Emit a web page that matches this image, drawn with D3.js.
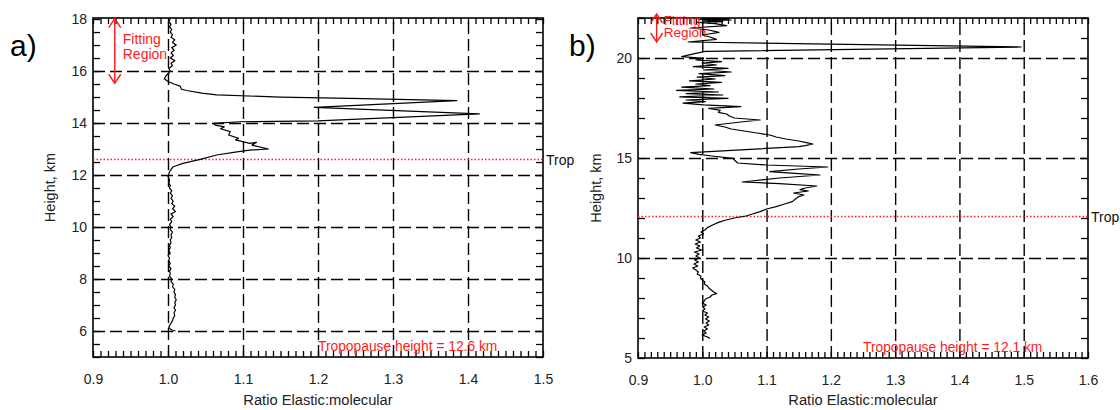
<!DOCTYPE html>
<html>
<head>
<script src="https://cdn.jsdelivr.net/npm/d3@7"></script>
<style>
  body { margin: 0; background: #fff; }
  text { font-family: "Liberation Sans", Arial, sans-serif; }
</style>
</head>
<body>
<svg id="chart" width="1120" height="410"></svg>
<script>

// ---- data ----
// tick labels
var aXTicks = [0.9, 1.0, 1.1, 1.2, 1.3, 1.4, 1.5];
var aYTicks = [6, 8, 10, 12, 14, 16, 18];
var aXGrid = [1.0, 1.1, 1.2, 1.3, 1.4];
var aYGrid = [6, 8, 10, 12, 14, 16];

var bXTicks = [0.9, 1.0, 1.1, 1.2, 1.3, 1.4, 1.5, 1.6];
var bYTicks = [5, 10, 15, 20];
var bXGrid = [1.0, 1.1, 1.2, 1.3, 1.4, 1.5];
var bYGrid = [10, 15, 20];

// tropopause heights (km) and fitting regions [top, bottom] (km)
var tropA = 12.6, tropB = 12.1;
var fitA = [18.02, 15.53], fitB = [22.2, 20.8];

// profile a: [height km, ratio]
var profileA = [
  [18.0,1.003],[17.9,1.001],[17.8,1.004],[17.7,1.002],[17.6,1.005],[17.5,1.003],[17.4,1.006],
  [17.3,1.004],[17.2,1.009],[17.1,1.006],[17.0,1.011],[16.9,1.005],[16.8,1.008],[16.7,1.004],
  [16.6,1.007],[16.5,1.003],[16.4,1.009],[16.3,1.004],[16.2,1.006],[16.1,1.001],[16.0,1.003],
  [15.9,1.000],[15.8,0.997],[15.7,0.995],[15.6,1.000],[15.5,1.008],[15.42,1.016],[15.3,1.018],
  [15.25,1.025],[15.15,1.045],[15.08,1.065],[15.0,1.15],[14.94,1.26],[14.86,1.385],[14.6,1.195],
  [14.35,1.415],[14.08,1.20],[14.05,1.096],[13.99,1.06],[13.92,1.063],[13.85,1.075],[13.78,1.07],
  [13.67,1.083],[13.54,1.081],[13.41,1.094],[13.35,1.09],[13.22,1.109],[13.26,1.118],[13.15,1.112],
  [13.0,1.134],[12.96,1.109],[12.9,1.094],[12.77,1.065],[12.6,1.043],[12.45,1.02],[12.32,1.007],
  [12.13,1.002],[11.94,1.000],[11.8,1.002],[11.7,1.001],[11.6,1.003],[11.5,1.002],[11.4,1.005],
  [11.3,1.003],[11.2,1.006],[11.1,1.004],[11.0,1.007],[10.9,1.005],[10.8,1.009],[10.7,1.006],
  [10.6,1.010],[10.5,1.004],[10.4,1.007],[10.3,1.003],[10.2,1.005],[10.1,1.002],[10.0,1.004],
  [9.9,1.003],[9.8,1.006],[9.7,1.004],[9.6,1.005],[9.5,1.003],[9.4,1.004],[9.3,1.002],[9.2,1.003],
  [9.1,1.001],[9.0,1.003],[8.9,1.000],[8.8,1.002],[8.7,1.001],[8.6,1.003],[8.5,1.001],[8.4,1.004],
  [8.3,1.002],[8.2,1.003],[8.1,1.002],[8.0,1.005],[7.9,1.004],[7.8,1.007],[7.7,1.006],[7.6,1.009],
  [7.5,1.008],[7.4,1.010],[7.3,1.009],[7.2,1.011],[7.1,1.009],[7.0,1.010],[6.9,1.008],[6.8,1.010],
  [6.7,1.008],[6.6,1.009],[6.5,1.007],[6.4,1.006],[6.3,1.004],[6.2,1.002],[6.15,1.001],[6.08,1.003],
  [6.03,1.006],[6.0,1.010]
];

// profile b: [height km, ratio]
var profileB = [
  [21.98,1.000],[21.96,1.040],[21.93,0.995],[21.9,1.045],[21.86,1.002],[21.82,1.032],[21.78,0.992],
  [21.72,1.020],[21.62,1.038],[21.5,0.982],[21.4,1.010],[21.28,1.026],[21.15,1.000],[21.05,1.012],
  [20.93,1.022],[20.8,0.978],[20.55,1.496],[20.33,1.005],[20.22,0.988],[20.07,0.968],[19.98,1.002],
  [19.9,0.990],[19.82,1.030],[19.74,1.000],[19.65,1.022],[19.57,0.986],[19.48,1.040],[19.4,1.002],
  [19.3,1.045],[19.22,0.995],[19.12,1.035],[19.04,0.992],[18.95,1.020],[18.86,0.980],[18.78,1.030],
  [18.7,0.990],[18.62,1.012],[18.54,0.968],[18.45,1.018],[18.38,0.960],[18.3,1.025],[18.22,0.975],
  [18.15,1.032],[18.06,0.965],[17.98,1.040],[17.9,0.975],[17.82,1.005],[17.74,0.970],[17.66,1.002],
  [17.57,1.060],[17.48,1.010],[17.38,1.028],[17.28,1.025],[17.2,1.038],[17.1,1.042],[17.0,1.050],
  [16.9,1.090],[16.8,1.060],[16.65,1.020],[16.55,1.035],[16.45,1.045],[16.35,1.065],[16.25,1.085],
  [16.15,1.105],[16.05,1.115],[15.95,1.130],[15.85,1.150],[15.77,1.162],[15.7,1.172],[15.62,1.160],
  [15.57,1.150],[15.27,0.982],[15.18,0.995],[15.1,1.015],[14.98,1.048],[14.9,1.050],[14.75,1.055],
  [14.65,1.100],[14.55,1.195],[14.45,1.150],[14.32,1.105],[14.22,1.150],[14.15,1.183],[14.0,1.120],
  [13.8,1.062],[13.72,1.120],[13.6,1.178],[13.5,1.160],[13.42,1.152],[13.35,1.165],[13.25,1.142],
  [13.15,1.158],[13.07,1.150],[12.95,1.145],[12.82,1.140],[12.7,1.128],[12.57,1.115],[12.45,1.100],
  [12.32,1.090],[12.2,1.078],[12.1,1.068],[12.0,1.050],[11.9,1.037],[11.78,1.025],[11.65,1.016],
  [11.52,1.008],[11.4,1.004],[11.3,0.998],[11.2,1.002],[11.1,0.994],[11.0,0.997],[10.9,0.990],
  [10.8,0.997],[10.7,0.989],[10.6,0.996],[10.5,0.991],[10.4,0.999],[10.3,0.988],[10.2,0.995],
  [10.1,0.990],[10.0,0.996],[9.9,0.988],[9.8,0.994],[9.7,0.987],[9.6,0.993],[9.5,0.985],[9.4,0.990],
  [9.3,0.994],[9.2,0.992],[9.1,0.998],[9.0,0.997],[8.9,1.000],[8.8,1.004],[8.7,1.003],[8.6,1.008],
  [8.5,1.010],[8.4,1.014],[8.3,1.018],[8.22,1.022],[8.15,1.015],[8.05,1.012],[7.95,1.005],
  [7.85,1.003],[7.75,1.000],[7.65,1.006],[7.55,1.001],[7.45,1.004],[7.35,1.000],[7.25,1.008],
  [7.15,1.004],[7.05,1.010],[6.95,1.005],[6.85,1.011],[6.75,1.006],[6.65,1.010],[6.55,1.003],
  [6.45,1.008],[6.35,1.002],[6.25,1.006],[6.15,1.000],[6.05,1.008],[5.98,1.012]
];

var svg = d3.select("#chart");

function drawPanel(p) {
  var g = svg.append("g");
  var x = d3.scaleLinear().domain(p.xDomain).range([p.x0, p.x1]);
  var y = d3.scaleLinear().domain(p.yDomain).range([p.y1, p.y0]);
  var w = p.x1 - p.x0, h = p.y1 - p.y0;

  function clean(sel) { sel.select(".domain").remove(); }

  // dashed grid
  g.append("g").attr("transform", "translate(0," + p.y1 + ")")
    .call(d3.axisBottom(x).tickValues(p.xGrid).tickSize(-h).tickFormat(""))
    .call(clean)
    .selectAll("line").attr("stroke", "#000").attr("stroke-width", 1.4).attr("stroke-dasharray", "12,5");
  g.append("g").attr("transform", "translate(" + p.x0 + ",0)")
    .call(d3.axisLeft(y).tickValues(p.yGrid).tickSize(-w).tickFormat(""))
    .call(clean)
    .selectAll("line").attr("stroke", "#000").attr("stroke-width", 1.4).attr("stroke-dasharray", "12,5");

  // minor ticks, pointing inward on all four sides
  var xm = d3.range(p.xDomain[0], p.xDomain[1] + 0.001, 0.01);
  var ym = d3.range(p.yDomain[0], p.yDomain[1] + 0.001, p.yMinorStep);
  g.append("g").attr("transform", "translate(0," + p.y1 + ")")
    .call(d3.axisBottom(x).tickValues(xm).tickSize(-6).tickFormat("")).call(clean);
  g.append("g").attr("transform", "translate(0," + p.y0 + ")")
    .call(d3.axisTop(x).tickValues(xm).tickSize(-6).tickFormat("")).call(clean);
  g.append("g").attr("transform", "translate(" + p.x0 + ",0)")
    .call(d3.axisLeft(y).tickValues(ym).tickSize(-7).tickFormat("")).call(clean);
  g.append("g").attr("transform", "translate(" + p.x1 + ",0)")
    .call(d3.axisRight(y).tickValues(ym).tickSize(-7).tickFormat("")).call(clean);
  g.selectAll(".tick line").filter(function() { return !this.getAttribute("stroke-dasharray"); })
    .attr("stroke", "#000").attr("stroke-width", 1.3);

  // tick labels
  g.append("g").attr("transform", "translate(0," + p.y1 + ")")
    .call(d3.axisBottom(x).tickValues(p.xTicks).tickSize(0).tickPadding(17).tickFormat(d3.format(".1f")))
    .call(clean);
  g.append("g").attr("transform", "translate(" + p.x0 + ",0)")
    .call(d3.axisLeft(y).tickValues(p.yTicks).tickSize(0).tickPadding(6).tickFormat(d3.format("d")))
    .call(clean);
  g.selectAll(".tick text").attr("font-size", "14px").attr("fill", "#222")
    .attr("font-family", "'Liberation Sans', Arial, sans-serif");

  // frame
  g.append("rect").attr("x", p.x0).attr("y", p.y0).attr("width", w).attr("height", h)
    .attr("fill", "none").attr("stroke", "#000").attr("stroke-width", 1.6);

  // tropopause line (red dots)
  var ty = Math.round(y(p.trop)) + 0.5;
  g.append("line").attr("x1", p.x0).attr("x2", p.x1)
    .attr("y1", ty).attr("y2", ty)
    .attr("stroke", "#ff2020").attr("stroke-width", 1.3).attr("stroke-dasharray", "1.5,2");
  g.append("text").attr("x", p.x1 + 3).attr("y", ty + 5)
    .attr("font-size", "14px").attr("fill", "#111").text("Trop");

  // profile
  var line = d3.line()
    .x(function(d) { return x(d[1]); })
    .y(function(d) { return y(d[0]); });
  g.append("path").datum(p.profile).attr("d", line)
    .attr("fill", "none").attr("stroke", "#000").attr("stroke-width", 1.2)
    .attr("stroke-linejoin", "round");

  // fitting region arrow
  var ax = x(0.929), ya = y(p.fit[0]), yb = y(p.fit[1]);
  g.append("line").attr("x1", ax).attr("x2", ax).attr("y1", ya).attr("y2", yb)
    .attr("stroke", "#ff1a1a").attr("stroke-width", 1.4);
  g.append("path").attr("d", "M" + (ax - 6) + "," + (ya + 9) + "L" + ax + "," + ya + "L" + (ax + 6) + "," + (ya + 9))
    .attr("fill", "none").attr("stroke", "#ff1a1a").attr("stroke-width", 1.4);
  g.append("path").attr("d", "M" + (ax - 6) + "," + (yb - 9) + "L" + ax + "," + yb + "L" + (ax + 6) + "," + (yb - 9))
    .attr("fill", "none").attr("stroke", "#ff1a1a").attr("stroke-width", 1.4);
  g.append("text").attr("x", ax + p.fitDx).attr("y", p.fitY[0])
    .attr("font-size", p.fitSize).attr("fill", "#ff1a1a").text("Fitting");
  g.append("text").attr("x", ax + p.fitDx).attr("y", p.fitY[1])
    .attr("font-size", p.fitSize).attr("fill", "#ff1a1a").text("Region");

  // tropopause height note
  g.append("text").attr("x", (p.x0 + p.x1) / 2).attr("y", p.y1 - 6)
    .attr("font-size", "13.8px").attr("fill", "#ff1a1a")
    .text("Tropopause height = " + p.trop + " km");

  // axis titles
  g.append("text").attr("x", (p.x0 + p.x1) / 2).attr("y", 405)
    .attr("text-anchor", "middle").attr("font-size", "14.7px").attr("fill", "#222")
    .text("Ratio Elastic:molecular");
  g.append("text").attr("transform", "translate(" + p.ytX + "," + ((p.y0 + p.y1) / 2) + ") rotate(-90)")
    .attr("text-anchor", "middle").attr("font-size", "14.5px").attr("fill", "#222")
    .text("Height, km");

  // panel letter
  svg.append("text").attr("x", p.letterX).attr("y", 56)
    .attr("font-family", "'Open Sans', 'Noto Sans', sans-serif")
    .attr("font-size", "30px").attr("fill", "#000").text(p.letter);
}

drawPanel({
  x0: 93, x1: 543, y0: 18, y1: 357,
  xDomain: [0.9, 1.5], yDomain: [5, 18.04], yMinorStep: 0.5,
  xTicks: aXTicks, yTicks: aYTicks, xGrid: aXGrid, yGrid: aYGrid,
  trop: tropA, fit: fitA, fitDx: 8, fitY: [44, 59], fitSize: "14px",
  profile: profileA, ytX: 55, letter: "a)", letterX: 10
});

drawPanel({
  x0: 638, x1: 1088, y0: 18, y1: 358,
  xDomain: [0.9, 1.6], yDomain: [5, 22], yMinorStep: 1,
  xTicks: bXTicks, yTicks: bYTicks, xGrid: bXGrid, yGrid: bYGrid,
  trop: tropB, fit: fitB, fitDx: 7, fitY: [25, 37], fitSize: "13.5px",
  profile: profileB, ytX: 601, letter: "b)", letterX: 569
});

</script>
</body>
</html>
